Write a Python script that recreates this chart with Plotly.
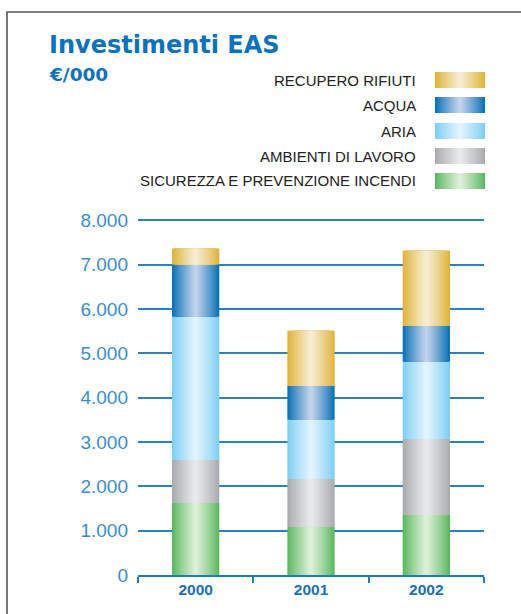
import plotly.graph_objects as go

# ---------------- data ----------------
years = ["2000", "2001", "2002"]
series_names = ["SICUREZZA E PREVENZIONE INCENDI", "AMBIENTI DI LAVORO", "ARIA", "ACQUA", "RECUPERO RIFIUTI"]
sicurezza = [1625, 1085, 1355]
ambienti = [975, 1085, 1715]
aria = [3225, 1330, 1740]
acqua = [1175, 770, 810]
rifiuti = [360, 1240, 1690]
y_tickvals = [0, 1000, 2000, 3000, 4000, 5000, 6000, 7000, 8000]

series_values = [sicurezza, ambienti, aria, acqua, rifiuti]
# edge colour, centre colour (horizontal gradient)
edge_cols = ["#5cb85e", "#a9abae", "#7dcff4", "#0873b7", "#e0b43a"]
centre_cols = ["#dcf0d8", "#e8e9ea", "#e2f4fd", "#c2d2ea", "#f6edd3"]

W = 521
H = 614
L, R, T, B = 138, 37, 218, 39
PW = W - L - R
PH = H - T - B


def hex2rgb(h):
    h = h.lstrip("#")
    return [int(h[i:i + 2], 16) for i in (0, 2, 4)]


def mix(c1, c2, t):
    a, b = hex2rgb(c1), hex2rgb(c2)
    return "rgb(%d,%d,%d)" % tuple(round(a[i] + (b[i] - a[i]) * t) for i in range(3))


def px2paper_x(px):
    return (px - L) / PW


def px2paper_y(py):
    return (H - B - py) / PH


NLEV = 14
BAR_W = 0.41

fig = go.Figure()

base = [0, 0, 0]
for s, vals in enumerate(series_values):
    for k in range(NLEV):
        t = (k / (NLEV - 1)) ** 0.9
        w = BAR_W * (1 - k / NLEV)
        fig.add_trace(go.Bar(
            x=years, y=vals, base=list(base),
            width=w, offset=-w / 2,
            marker=dict(color=mix(edge_cols[s], centre_cols[s], t), line=dict(width=0)),
            showlegend=False, hoverinfo="skip" if k else "x+y",
            name=series_names[s],
        ))
    base = [b + v for b, v in zip(base, vals)]

shapes = []
annotations = []

# frame
shapes.append(dict(type="rect", xref="paper", yref="paper",
                   x0=px2paper_x(7), x1=px2paper_x(540), y0=px2paper_y(640), y1=px2paper_y(12),
                   line=dict(color="#555555", width=1.6), fillcolor="rgba(0,0,0,0)", layer="above"))

# custom legend (top to bottom)
legend_rows_y = [80, 105, 131, 156, 181]
for row, s in enumerate(reversed(range(len(series_names)))):
    cy = legend_rows_y[row]
    x0, x1 = 435, 485
    for k in range(NLEV):
        t = (k / (NLEV - 1)) ** 0.9
        half = (x1 - x0) / 2 * (1 - k / NLEV)
        cx = (x0 + x1) / 2
        shapes.append(dict(type="rect", xref="paper", yref="paper",
                           x0=px2paper_x(cx - half), x1=px2paper_x(cx + half),
                           y0=px2paper_y(cy + 8), y1=px2paper_y(cy - 8),
                           line=dict(width=0), fillcolor=mix(edge_cols[s], centre_cols[s], t)))
    annotations.append(dict(text=series_names[s], xref="paper", yref="paper",
                            x=px2paper_x(418), y=px2paper_y(cy), xanchor="right", yanchor="middle",
                            showarrow=False,
                            font=dict(family="Liberation Sans, Arial, sans-serif", size=15, color="#222222")))

annotations.append(dict(text="<b>Investimenti EAS</b>", xref="paper", yref="paper",
                        x=px2paper_x(47), y=px2paper_y(45), xanchor="left", yanchor="middle",
                        showarrow=False,
                        font=dict(family="DejaVu Sans, Verdana, sans-serif", size=24, color="#0b72bf")))
annotations.append(dict(text="<b>€/000</b>", xref="paper", yref="paper",
                        x=px2paper_x(47), y=px2paper_y(74), xanchor="left", yanchor="middle",
                        showarrow=False,
                        font=dict(family="DejaVu Sans, Verdana, sans-serif", size=18.5, color="#0b72bf")))

fig.update_layout(
    width=W, height=H,
    margin=dict(l=L, r=R, t=T, b=B),
    paper_bgcolor="white", plot_bgcolor="white",
    barmode="overlay",
    separators=",.",
    showlegend=False,
    shapes=shapes,
    annotations=annotations,
    xaxis=dict(type="category", range=[-0.5, 2.5], tickson="boundaries",
               ticks="outside", ticklen=6, tickwidth=1.5, tickcolor="#1f7cc0",
               showline=True, linecolor="#1f7cc0", linewidth=1.5,
               showgrid=False,
               tickfont=dict(family="Liberation Sans, Arial, sans-serif", size=15.5, color="#1a70b8", weight="bold")),
    yaxis=dict(range=[0, 8050], tickvals=y_tickvals, tickformat=",d", separatethousands=True,
               showgrid=True, gridcolor="#2a82c6", gridwidth=1.5,
               zeroline=False, showline=False, ticks="", ticklabelstandoff=9,
               tickfont=dict(family="Liberation Sans, Arial, sans-serif", size=19, color="#3a8ed0")),
)

fig.write_html("out.html", config={"displayModeBar": False},
               post_script="document.body.style.margin='0';document.body.style.padding='0';")
